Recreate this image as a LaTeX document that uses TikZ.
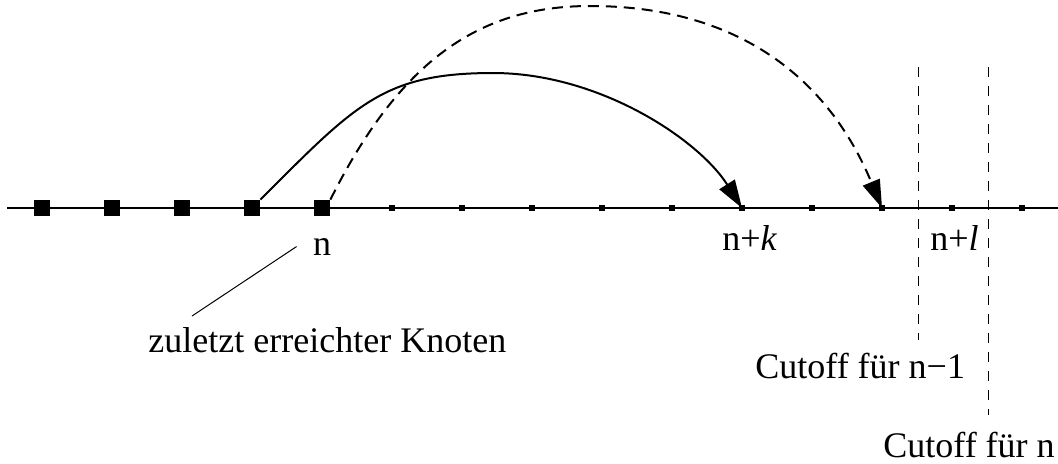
\documentclass[tikz,border=0pt]{standalone}
\usepackage{fontspec}
\setmainfont{Liberation Serif}
\usetikzlibrary{arrows.meta}

\begin{document}
\begin{tikzpicture}[x=0.5pt, y=-0.5pt,
    font=\fontsize{18}{22}\selectfont,
    bigsq/.style={fill=black, inner sep=0pt, minimum size=8pt},
    smallsq/.style={fill=black, inner sep=0pt, minimum size=3pt},
    jump/.style={line width=1pt, -{Triangle[length=14pt,width=9pt]}},
    cutline/.style={line width=0.5pt, dash pattern=on 5pt off 4.5pt},
    lbl/.style={anchor=base west, inner sep=0pt}]
    \useasboundingbox (0,0) rectangle (1058,463);

    \coordinate (axL) at (7,208);
    \coordinate (axR) at (1060,208);
    \draw[line width=0.7pt] (axL) -- (axR);
    \foreach \i in {1,...,5}
        \node[bigsq] (p\i) at ({42+70*(\i-1)},208) {};
    \foreach \i in {1,...,10}
        \node[smallsq] (q\i) at ({392+70*(\i-1)},208) {};

    \coordinate (top1) at (493,73);
    \coordinate (top2) at (590,6);
    \draw[jump] (p4.north east) .. controls +(95,-95) and +(-110,0) .. (top1)
        .. controls +(107,0) and +(-43,-68) .. (q6.center);
    \draw[jump, dash pattern=on 5.5pt off 3.5pt] (p5.north east)
        .. controls +(70,-140) and +(-110,0) .. (top2)
        .. controls +(150,0) and +(-53,-128) .. (q8.center);

    \coordinate (cutA1) at (918,67);
    \coordinate (cutA2) at (918,340);
    \coordinate (cutB1) at (988,67);
    \coordinate (cutB2) at (988,415);
    \draw[cutline] (cutA1) -- (cutA2);
    \draw[cutline] (cutB1) -- (cutB2);

    \node[anchor=base, inner sep=8pt] (lblN) at (322,255) {n};
    \node[lbl] (lblK) at (722,250) {n+\textit{k}};
    \node[lbl] (lblL) at (930,250) {n+\textit{l}};
    \node[lbl] (lblZ) at (148,352) {zuletzt erreichter Knoten};
    \node[lbl] (cut1) at (755,378) {Cutoff für n−1};
    \node[lbl] (cut2) at (883,457) {Cutoff für n};

    \coordinate (ptr) at (192,316);
    \draw[line width=0.5pt] (ptr) -- (lblN.west);
\end{tikzpicture}
\end{document}
